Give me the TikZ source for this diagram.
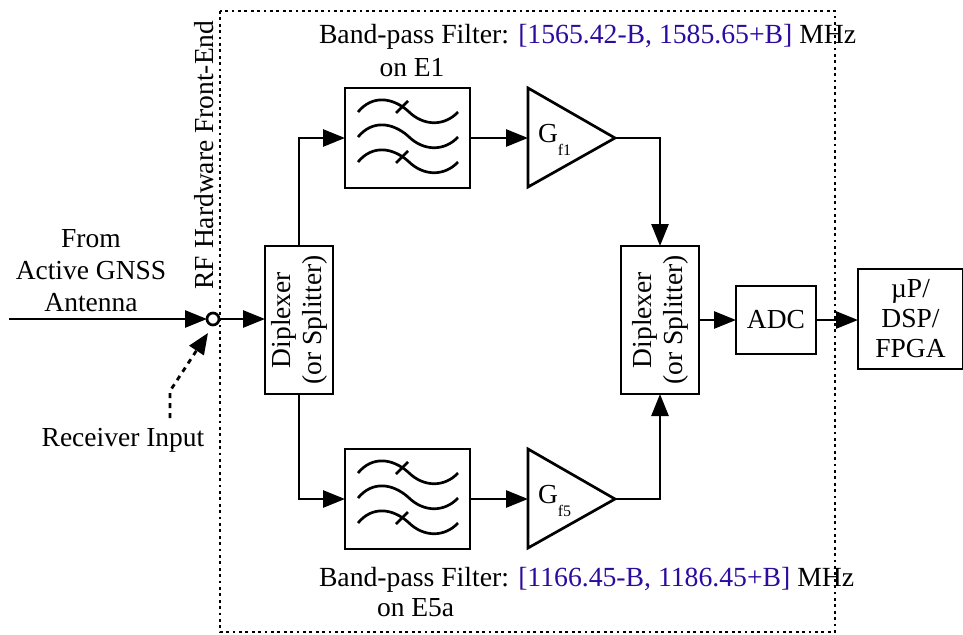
\documentclass[tikz,border=0pt]{standalone}
\usepackage{fontspec}
\setmainfont{Liberation Serif}
\usetikzlibrary{arrows.meta,calc}
\definecolor{blu}{RGB}{45,10,160}
\tikzset{
 x=1pt,y=-1pt,
 every node/.style={font=\fontsize{27.5}{30}\selectfont,inner sep=0pt,outer sep=0pt},
 box/.style={draw,line width=2.7pt,fill=white,anchor=north west},
 wire/.style={line width=2.7pt,-{Triangle[length=22pt,width=17pt]}},
 plain/.style={line width=2.7pt},
 wav/.style={line width=2.7pt},
 txt/.style={align=center},
 rot/.style={rotate=90,align=center,font=\fontsize{27.5}{31}\selectfont}
}
\newcommand{\wave}[1]{\draw[wav] (358,#1+7) .. controls (372,#1-10) and (392,#1-8) .. (408,#1+6) .. controls (424,#1+22) and (445,#1+21) .. (458,#1+7);}
\begin{document}
\begin{tikzpicture}
\useasboundingbox (0,0) rectangle (963,634);
\draw[line width=2.8pt,dash pattern=on 2.8pt off 3.6pt] (220,11) rectangle (835,632);
% filters
\node[box,minimum width=125pt,minimum height=100pt] (f1) at (345,88) {};
\node[box,minimum width=125pt,minimum height=100pt] (f5) at (345,449) {};
\foreach \dy in {0,361}{
 \begin{scope}[shift={(0,\dy)}]
 \wave{105}
 \wave{130}
 \wave{155}
 \draw[wav] (396,113) -- (408,101);
 \draw[wav] (396,163) -- (408,151);
 \end{scope}
}
% amps
\coordinate (a1p) at (615,138);
\coordinate (a1a) at (528,88); \coordinate (a1b) at (528,187); \coordinate (a1i) at (528,138);
\draw[plain,line join=miter] (a1a) -- (a1p) -- (a1b) -- cycle;
\coordinate (a5p) at (615,499);
\coordinate (a5a) at (528,449); \coordinate (a5b) at (528,548); \coordinate (a5i) at (528,499);
\draw[plain,line join=miter] (a5a) -- (a5p) -- (a5b) -- cycle;
\node[anchor=base west] (g1) at (538,142) {G\raisebox{-13pt}{\fontsize{16}{16}\selectfont f1}};
\node[anchor=base west] (g5) at (538,503) {G\raisebox{-13pt}{\fontsize{16}{16}\selectfont f5}};
% diplexers
\node[box,minimum width=68pt,minimum height=148pt] (d1) at (265,246) {};
\node[rot] at (d1.center) {Diplexer\\(or Splitter)};
\node[box,minimum width=78pt,minimum height=148pt] (d2) at (621,246) {};
\node[rot] at (d2.center) {Diplexer\\(or Splitter)};
\node[box,minimum width=80pt,minimum height=68pt] (adc) at (736,286) {ADC};
\node[box,minimum width=105pt,minimum height=100pt,align=center,font=\fontsize{27.5}{30}\selectfont] (dsp) at (858,269) {µP/\\DSP/\\FPGA};
% port
\node[draw,circle,line width=2.7pt,minimum size=12pt,fill=white] (port) at (213,319) {};
\coordinate (src) at (9,319);
\draw[wire] (src) -- (port.west);
\draw[wire] (port.east) -- (d1.west |- port);
\draw[wire] (d1.north) |- (f1.west |- a1i);
\draw[wire] (d1.south) |- (f5.west |- a5i);
\draw[wire] (f1.east |- a1i) -- (a1i);
\draw[wire] (f5.east |- a5i) -- (a5i);
\draw[wire] (a1p) -| (d2.north);
\draw[wire] (a5p) -| (d2.south);
\draw[wire] (d2.east |- adc) -- (adc.west);
\draw[wire] (adc.east) -- (dsp.west |- adc);
\coordinate (rin) at (170,418);
\coordinate (rbend) at (170,391);
\coordinate (rtip) at (208,333);
\draw[line width=2.8pt,dash pattern=on 5pt off 5pt,-{Triangle[length=21pt,width=17pt]}] (rin) -- (rbend) -- (rtip);
% text
\node[txt,font=\fontsize{27.5}{32}\selectfont] (from) at (91,271) {From\\Active GNSS\\Antenna};
\node (ri) at (123,440) {Receiver Input};
\node[rotate=90] (rf) at (204,155) {RF Hardware Front-End};
\node[anchor=west,font=\fontsize{27.7}{30}\selectfont] (t1) at (319,37) {Band-pass Filter: {\color{blu}[1565.42-B, 1585.65+B]} MHz};
\node (t1b) at (412,68) {on E1};
\node[anchor=west,font=\fontsize{27.7}{30}\selectfont] (t5) at (319,580) {Band-pass Filter: {\color{blu}[1166.45-B, 1186.45+B]} MHz};
\node[anchor=west] (t5b) at (377,608) {on E5a};
\end{tikzpicture}
\end{document}
